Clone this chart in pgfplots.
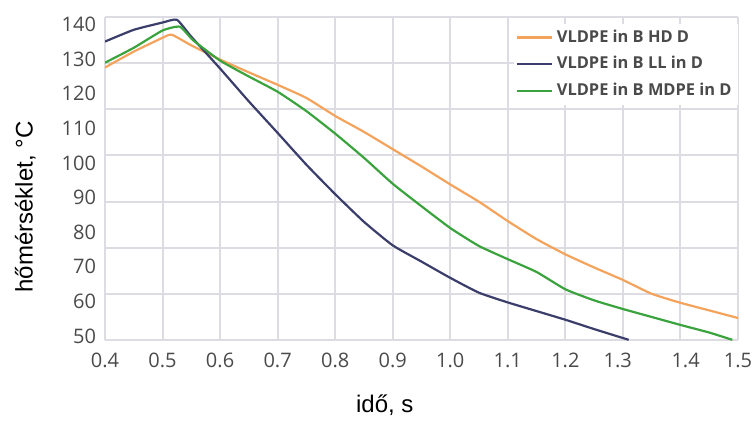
\documentclass[border=0pt]{standalone}
\usepackage{fontspec}
\setmainfont{Liberation Sans}
\newfontfamily\tickfont{Open Sans}
\usepackage{pgfplots}
\pgfplotsset{compat=1.18}

\definecolor{cHD}{HTML}{F4A35C}
\definecolor{cLL}{HTML}{3B3E6B}
\definecolor{cMD}{HTML}{3BA33E}
\definecolor{gridc}{HTML}{DCDCE2}
\definecolor{tickc}{HTML}{4A4A4A}

\begin{document}
\begin{tikzpicture}
\begin{axis}[
    name=ax,
    scale only axis,
    width=316.5pt, height=161.5pt,
    xmin=0.4, xmax=1.5,
    ymin=48.84, ymax=142.2,
    axis line style={draw=none},
    major tick style={draw=none},
    % grid lines = major ticks without labels
    xtick={0.4,0.5,0.6,0.7,0.8,0.9,1.0,1.1,1.2,1.3,1.4,1.5},
    ytick={48.84,62.18,75.52,88.86,102.2,115.54,128.88,142.2},
    xticklabels={}, yticklabels={},
    xmajorgrids=true, ymajorgrids=true,
    major grid style={draw=gridc, line width=1pt},
    % labels = extra ticks without grid
    extra x ticks={0.4,0.5,0.6,0.7,0.8,0.9,1.0,1.1,1.2,1.291,1.409,1.5},
    extra x tick labels={0.4,0.5,0.6,0.7,0.8,0.9,1.0,1.1,1.2,1.3,1.4,1.5},
    extra y ticks={50,60,70,80,90,100,110,120,130,140},
    extra y tick labels={50,60,70,80,90,100,110,120,130,140},
    extra tick style={grid=none, major tick style={draw=none}},
    ticklabel style={font=\tickfont\fontsize{10}{12}\selectfont, text=tickc},
    /pgf/number format/assume math mode=true,
    x tick label style={yshift=-3pt},
    y tick label style={xshift=-1pt},
    xlabel={idő, s},
    ylabel={hőmérséklet, °C},
    label style={font=\fontsize{12}{14}\selectfont},
    xlabel style={at={(axis description cs:0.442,-0.201)}, anchor=center},
    ylabel style={at={(axis description cs:-0.126,0.412)}, anchor=center},
    legend style={at={(axis description cs:0.645,0.98)}, anchor=north west,
        draw=none, fill=white, inner sep=1pt, row sep=1.6pt,
        font=\tickfont\bfseries\fontsize{8.2}{10}\selectfont, text=tickc},
    legend cell align=left,
    legend image code/.code={\draw[#1] (0pt,0pt) -- (17.5pt,0pt);},
    every axis plot/.append style={line width=1.1pt, line join=round, smooth, tension=0.3},
]
\addplot[cHD] coordinates {
(0.40,127.6) (0.45,132.2) (0.50,136.2) (0.516,137.1) (0.55,134.0) (0.60,129.9)
(0.65,126.2) (0.70,122.6) (0.75,118.8) (0.80,113.6) (0.85,109.0) (0.90,104.0)
(0.95,99.0) (1.00,93.8) (1.05,88.8) (1.10,83.2) (1.15,78.0) (1.20,73.6)
(1.25,69.8) (1.30,66.2) (1.35,62.2) (1.40,59.6) (1.45,57.4) (1.50,55.2)
};
\addlegendentry{VLDPE in B HD D}
\addplot[cLL] coordinates {
(0.40,135.1) (0.45,138.5) (0.50,140.6) (0.525,141.4) (0.55,136.5) (0.60,127.3)
(0.65,117.8) (0.70,108.7) (0.75,99.5) (0.80,91.0) (0.85,83.0) (0.90,76.2)
(0.95,71.5) (1.00,66.8) (1.05,62.5) (1.10,59.7) (1.15,57.2) (1.20,54.7)
(1.25,52.0) (1.31,48.9)
};
\addlegendentry{VLDPE in B LL in D}
\addplot[cMD] coordinates {
(0.40,129.0) (0.45,133.3) (0.50,138.3) (0.53,139.4) (0.553,135.5) (0.60,129.6)
(0.65,125.0) (0.70,120.6) (0.75,115.0) (0.80,108.5) (0.85,101.5) (0.90,94.0)
(0.95,87.5) (1.00,81.2) (1.05,76.0) (1.10,72.2) (1.15,68.5) (1.20,63.5)
(1.25,60.3) (1.30,57.8) (1.35,55.5) (1.40,53.2) (1.45,51.0) (1.49,48.9)
};
\addlegendentry{VLDPE in B MDPE in D}
\end{axis}
\pgfresetboundingbox
\path ([xshift=-52.5pt,yshift=-40.5pt]ax.south west) rectangle ([xshift=7pt,yshift=8.5pt]ax.north east);
\end{tikzpicture}
\end{document}
